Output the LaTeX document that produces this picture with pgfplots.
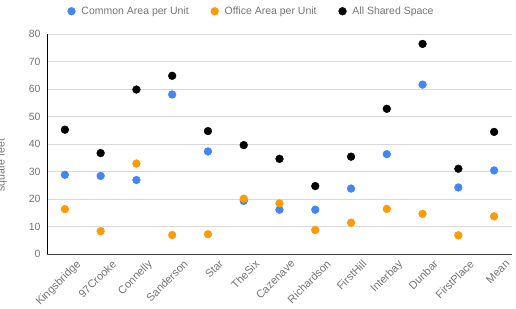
\documentclass[border=0pt]{standalone}
\usepackage{pgfplots}
\pgfplotsset{compat=1.18}
\usepackage{fontspec}
\setmainfont{Liberation Sans}
\definecolor{cblue}{HTML}{4285F4}
\definecolor{corange}{HTML}{FF9A00}
\definecolor{tgrey}{HTML}{757575}
\definecolor{ggrey}{HTML}{D9D9D9}
\begin{document}
\begin{tikzpicture}[x=1pt,y=1pt]
\useasboundingbox (-47,-54) rectangle (469,254);
\begin{axis}[
  at={(0,0)}, anchor=south west,
  scale only axis, width=465pt, height=220pt,
  xmin=-0.5, xmax=12.5, ymin=0, ymax=80,
  xtick={0,...,12},
  xticklabels={Kingsbridge,97Crooke,Connelly,Sanderson,Star,TheSix,Cazenave,Richardson,FirstHill,Interbay,Dunbar,FirstPlace,Mean},
  x tick label style={rotate=45, anchor=north east, font=\fontsize{11}{12}\selectfont, text=tgrey, inner sep=1pt, xshift=5pt, yshift=-10pt},
  ytick={0,10,...,80},
  y tick label style={font=\fontsize{10.5}{11}\selectfont, text=tgrey, xshift=-3pt},
  /pgf/number format/assume math mode=true,
  ymajorgrids, grid style={ggrey, line width=0.8pt},
  major tick length=0pt,
  axis y line=none, axis x line*=bottom,
  x axis line style={draw=black!75, line width=1pt, -},
  hide y axis=false,
  clip=false,
  legend style={at={(0.44,1)}, anchor=south, yshift=14pt, draw=none, fill=none,
    font=\fontsize{10.5}{11}\selectfont, text=tgrey, legend columns=3,
    /tikz/every odd column/.append style={column sep=4pt},
    /tikz/every even column/.append style={column sep=20pt}},
  legend cell align=left,
  only marks,
]
\addplot[mark=*, mark size=3.9pt, mark options={draw=cblue, fill=cblue}] coordinates {
 (0,28.8) (1,28.4) (2,26.9) (3,58.0) (4,37.3) (5,19.3) (6,16.1) (7,16.1) (8,23.8) (9,36.3) (10,61.6) (11,24.2) (12,30.4)};
\addlegendentry{Common Area per Unit}
\addplot[mark=*, mark size=3.9pt, mark options={draw=corange, fill=corange}] coordinates {
 (0,16.3) (1,8.3) (2,32.9) (3,6.9) (4,7.2) (5,20.1) (6,18.4) (7,8.7) (8,11.4) (9,16.4) (10,14.6) (11,6.8) (12,13.7)};
\addlegendentry{Office Area per Unit}
\addplot[mark=*, mark size=3.9pt, mark options={draw=black, fill=black}] coordinates {
 (0,45.2) (1,36.7) (2,59.8) (3,64.8) (4,44.7) (5,39.6) (6,34.6) (7,24.7) (8,35.4) (9,52.8) (10,76.4) (11,31.0) (12,44.4)};
\addlegendentry{All Shared Space}
\node[xshift=-45pt, yshift=89pt, rotate=90, text=tgrey, font=\fontsize{10.5}{11}\selectfont] at (rel axis cs:0,0) {square feet};
\end{axis}
\end{tikzpicture}
\end{document}
